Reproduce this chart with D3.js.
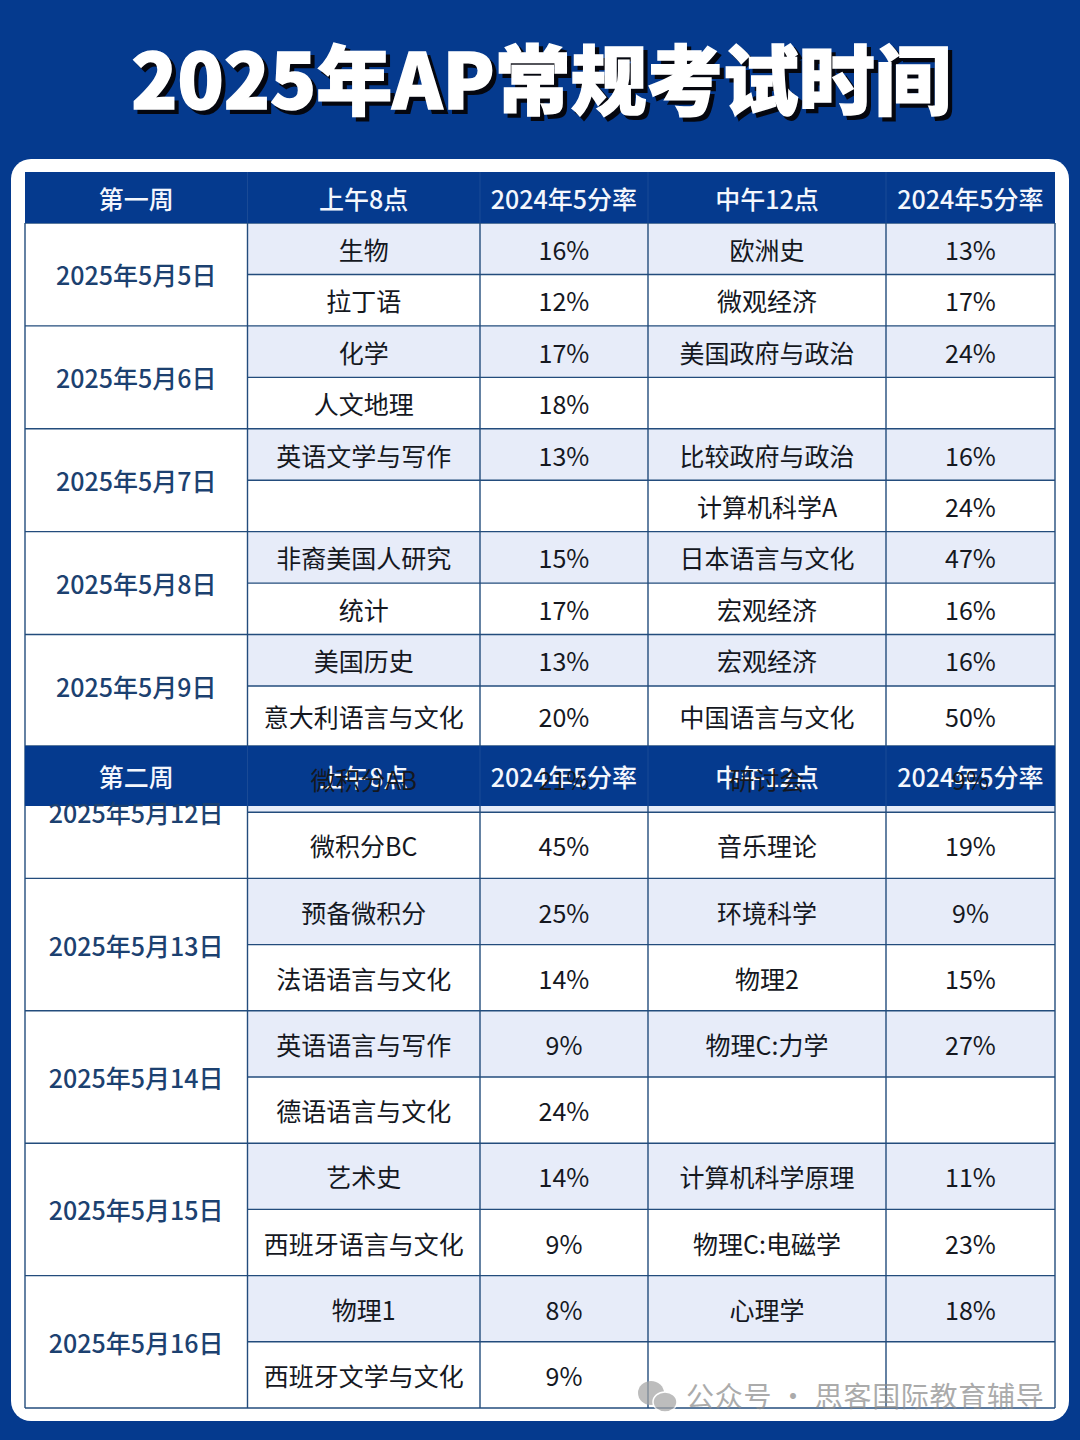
<!DOCTYPE html>
<html>
<head>
<meta charset="utf-8">
<script src="https://cdnjs.cloudflare.com/ajax/libs/d3/7.9.0/d3.min.js"></script>
<style>
  html, body { margin: 0; padding: 0; background: #053a8e; }
  svg { display: block; }
  text { font-family: "Noto Sans CJK SC", "Noto Sans", sans-serif; }
  .title { font-size: 76px; font-weight: 900; }
  .head { fill: #f4f7fd; font-size: 25px; font-weight: 500; }
  .date { fill: #1c4170; font-size: 25px; font-weight: 500; }
  .cell { fill: #15181f; font-size: 25px; font-weight: 400; }
  .mark { fill: #8b8b8b; font-size: 28px; font-weight: 400; letter-spacing: 0.7px; }
</style>
</head>
<body>
<svg id="chart" width="1080" height="1440"></svg>
<script>
const titleText = '2025年AP常规考试时间';
const headers = ['上午8点', '2024年5分率', '中午12点', '2024年5分率'];
const weeks = ['第一周', '第二周'];

const dates = [
  '2025年5月5日', '2025年5月6日', '2025年5月7日', '2025年5月8日', '2025年5月9日',
  '2025年5月12日', '2025年5月13日', '2025年5月14日', '2025年5月15日', '2025年5月16日',
];
const morningSubjects = [
  '生物', '拉丁语', '化学', '人文地理', '英语文学与写作', '',
  '非裔美国人研究', '统计', '美国历史', '意大利语言与文化',
  '微积分AB', '微积分BC', '预备微积分', '法语语言与文化', '英语语言与写作',
  '德语语言与文化', '艺术史', '西班牙语言与文化', '物理1', '西班牙文学与文化',
];
const morningRates = [
  '16%', '12%', '17%', '18%', '13%', '',
  '15%', '17%', '13%', '20%',
  '21%', '45%', '25%', '14%', '9%',
  '24%', '14%', '9%', '8%', '9%',
];
const noonSubjects = [
  '欧洲史', '微观经济', '美国政府与政治', '', '比较政府与政治', '计算机科学A',
  '日本语言与文化', '宏观经济', '宏观经济', '中国语言与文化',
  '研讨会', '音乐理论', '环境科学', '物理2', '物理C:力学',
  '', '计算机科学原理', '物理C:电磁学', '心理学', '',
];
const noonRates = [
  '13%', '17%', '24%', '', '16%', '24%',
  '47%', '16%', '16%', '50%',
  '9%', '19%', '9%', '15%', '27%',
  '', '11%', '23%', '18%', '',
];

const NAVY = '#053a8e';
const SHADE = '#e7ecf9';
const LINE = '#234c7c';

const svg = d3.select('#chart');

// column edges and the two row runs, piecewise because the rows are not all the same height
const x = d3.scaleLinear().domain([0, 1, 2, 3, 4, 5]).range([25, 247.5, 480, 648, 886, 1055]);
const yHead = d3.scaleOrdinal().domain([0, 1]).range([[172, 223], [746, 806]]);
const y = d3.scaleLinear().domain([0, 9, 10, 20]).range([223, 686, 746, 1408]).unknown(0);
const yRow = (i) => (i < 10 ? y(i) : y(i));
const rowMid = (i) => (yRow(i) + yRow(i + 1)) / 2;

const columns = [morningSubjects, morningRates, noonSubjects, noonRates];

svg.append('rect').attr('width', 1080).attr('height', 1440).attr('fill', NAVY);

// title with its hard black drop shadow
const titleWrap = svg.append('g').attr('text-anchor', 'middle');
titleWrap.append('text').classed('title', true)
  .attr('x', 545).attr('y', 113)
  .attr('fill', '#05070f').attr('stroke', '#05070f').attr('stroke-width', 2)
  .text(titleText);
titleWrap.append('text').classed('title', true)
  .attr('x', 541).attr('y', 109)
  .attr('fill', '#fff').attr('stroke', '#fff').attr('stroke-width', 1.5)
  .text(titleText);

svg.append('rect')
  .attr('x', 11).attr('y', 159)
  .attr('width', 1058).attr('height', 1262)
  .attr('rx', 20).attr('fill', '#fff');

// shaded first row of each day
svg.append('g').selectAll('rect')
  .data(d3.range(20).filter((i) => i % 2 === 0))
  .enter()
    .append('rect')
    .attr('x', x(1))
    .attr('y', (i) => yRow(i))
    .attr('width', x(5) - x(1))
    .attr('height', (i) => yRow(i + 1) - yRow(i))
    .attr('fill', SHADE);

// grid
const grid = svg.append('g').attr('stroke', LINE).attr('stroke-width', 1.4);
grid.selectAll('line.h')
  .data(d3.range(0, 21))
  .enter()
    .append('line')
    .classed('h', true)
    .attr('x1', (i) => (i % 2 === 0 ? x(0) : x(1)))
    .attr('x2', x(5))
    .attr('y1', (i) => yRow(i))
    .attr('y2', (i) => yRow(i));
grid.selectAll('line.v')
  .data(d3.range(0, 6))
  .enter()
    .append('line')
    .classed('v', true)
    .attr('x1', (i) => x(i))
    .attr('x2', (i) => x(i))
    .attr('y1', 223)
    .attr('y2', 1408);

// header bands
weeks.forEach((week, w) => {
  const [top, bottom] = yHead(w);
  const mid = (top + bottom) / 2;
  const band = svg.append('g');
  band.append('rect')
    .attr('x', x(0)).attr('y', top)
    .attr('width', x(5) - x(0)).attr('height', bottom - top)
    .attr('fill', NAVY);
  band.selectAll('line')
    .data(d3.range(1, 5))
    .enter()
      .append('line')
      .attr('x1', (i) => x(i)).attr('x2', (i) => x(i))
      .attr('y1', top).attr('y2', bottom)
      .attr('stroke', '#1a4a96').attr('stroke-width', 1);
  band.selectAll('text')
    .data([week].concat(headers))
    .enter()
      .append('text')
      .classed('head', true)
      .attr('text-anchor', 'middle')
      .attr('dominant-baseline', 'central')
      .attr('x', (d, i) => (x(i) + x(i + 1)) / 2)
      .attr('y', mid)
      .text((d) => d);
});

// dates span two rows
svg.append('g').selectAll('text')
  .data(dates)
  .enter()
    .append('text')
    .classed('date', true)
    .attr('text-anchor', 'middle')
    .attr('dominant-baseline', 'central')
    .attr('x', (x(0) + x(1)) / 2)
    .attr('y', (d, i) => yRow(i * 2 + 1))
    .text((d) => d);

columns.forEach((values, c) => {
  svg.append('g').selectAll('text')
    .data(values)
    .enter()
      .append('text')
      .classed('cell', true)
      .attr('text-anchor', 'middle')
      .attr('dominant-baseline', 'central')
      .attr('x', (x(c + 1) + x(c + 2)) / 2)
      .attr('y', (d, i) => rowMid(i))
      .text((d) => d);
});

// watermark
const mark = svg.append('g').attr('opacity', 0.72);
mark.append('ellipse').attr('cx', 651).attr('cy', 1393).attr('rx', 13).attr('ry', 12).attr('fill', '#a5a5a5');
mark.append('ellipse').attr('cx', 665).attr('cy', 1402).attr('rx', 12).attr('ry', 10).attr('fill', '#a5a5a5')
  .attr('stroke', '#fff').attr('stroke-width', 1.5);
mark.append('text').classed('mark', true)
  .attr('x', 686).attr('y', 1407)
  .text('公众号 · 思客国际教育辅导');
</script>
</body>
</html>
